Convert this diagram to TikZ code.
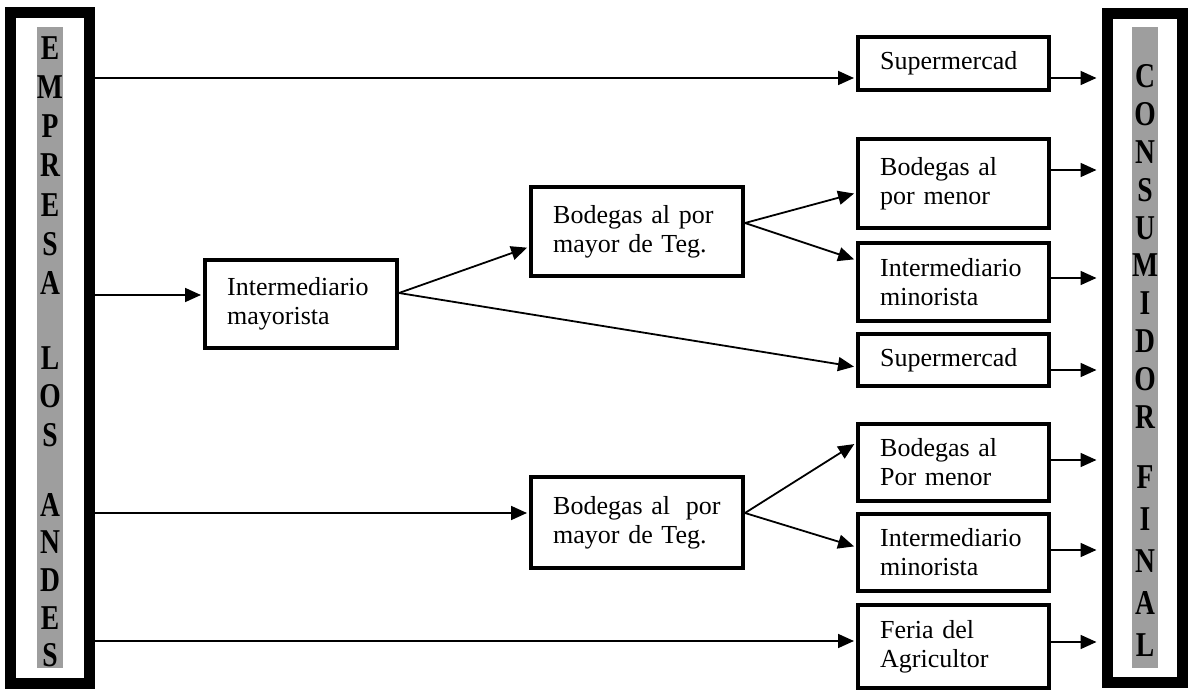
\documentclass[tikz,border=0pt]{standalone}
\usepackage{fontspec}
\setmainfont{Liberation Serif}
\usetikzlibrary{arrows.meta,calc}
\begin{document}
\begin{tikzpicture}[x=0.5pt,y=-0.5pt,
  bx/.style={draw, line width=2.2pt, align=left, inner xsep=11pt, inner ysep=0pt, font=\fontsize{13}{14.5}\selectfont},
  bar/.style={draw, line width=5.5pt, inner sep=0pt},
  col/.style={fill=black!38, inner sep=0pt},
  ltr/.style={inner sep=0pt, font=\fontsize{14.5}{14.5}\selectfont\bfseries},
  arr/.style={line width=0.9pt, -{Triangle[length=8pt,width=7pt]}, shorten >=1pt},
  arrbar/.style={arr, shorten >=2.75pt}]
\useasboundingbox (0,0) rectangle (1196,695);

% side bars
\node[bar, minimum width=39.5pt, minimum height=335.5pt] (L) at (50,348) {};
\node[col, minimum width=13pt, minimum height=320.5pt] (Lg) at (50,347.5) {};
\node[bar, minimum width=37.5pt, minimum height=334.5pt] (R) at (1145,348) {};
\node[col, minimum width=13pt, minimum height=320.5pt] (Rg) at (1145,347.5) {};

\foreach \ch/\yy [count=\i] in {E/48,M/87,P/126,R/165,E/205,S/244,A/283,L/358,O/396,S/435,A/505,N/542,D/580,E/618,S/655}
  \node[ltr] (le\i) at (50,\yy) {\scalebox{0.95}[1.2]{\ch}};
\foreach \ch/\yy [count=\i] in {C/76,O/114,N/152,S/190,U/228,M/265,I/303,D/341,O/379,R/417,F/477,I/519,N/561,A/603,L/645}
  \node[ltr] (re\i) at (1145,\yy) {\scalebox{0.95}[1.2]{\ch}};

% boxes
\node[bx, text width=73.3pt, minimum height=26.3pt] (supA) at (953.5,63.5) {Supermercad};
\node[bx, text width=73.3pt, minimum height=44.3pt] (menorA) at (953.5,183.5) {Bodegas al\\por menor};
\node[bx, text width=73.3pt, minimum height=38.8pt] (minA) at (953.5,282) {Intermediario\\minorista};
\node[bx, text width=73.3pt, minimum height=25.8pt] (supB) at (953.5,360) {Supermercad};
\node[bx, text width=73.3pt, minimum height=38.3pt] (menorB) at (953.5,462.5) {Bodegas al\\Por menor};
\node[bx, text width=73.3pt, minimum height=38.3pt] (minB) at (953.5,552.5) {Intermediario\\minorista};
\node[bx, text width=73.3pt, minimum height=41.3pt] (feria) at (953.5,646.5) {Feria del\\Agricultor};
\node[bx, text width=73.8pt, minimum height=43.8pt] (may) at (301,304) {Intermediario\\mayorista};
\node[bx, text width=83.8pt, minimum height=44.3pt] (bodA) at (637,231.5) {Bodegas al por\\mayor de Teg.};
\node[bx, text width=83.8pt, minimum height=45.3pt] (bodB) at (637,522.5) {\mbox{Bodegas al\hspace{0.6em}por}\\mayor de Teg.};

% from left bar
\coordinate (e1) at ($(supA.west)+(0,14.5)$);
\coordinate (e2) at ($(may.west)+(0,-9)$);
\coordinate (e3) at ($(bodB.west)+(0,-9.5)$);
\coordinate (e4) at ($(feria.west)+(0,-5.5)$);
\draw[arr] (L.east |- e1) -- (e1);
\draw[arr] (L.east |- e2) -- (e2);
\draw[arr] (L.east |- e3) -- (e3);
\draw[arr] (L.east |- e4) -- (e4);

% middle connectors
\coordinate (m0) at ($(may.east)+(0,-11)$);
\coordinate (m1) at ($(bodA.west)+(0,15.5)$);
\coordinate (m2) at ($(supB.west)+(0,7)$);
\draw[arr] (m0) -- (m1);
\draw[arr] (m0) -- (m2);
\coordinate (a0) at ($(bodA.east)+(0,-8.5)$);
\coordinate (a1) at ($(menorA.west)+(0,9.5)$);
\coordinate (a2) at ($(minA.west)+(0,-22)$);
\draw[arr] (a0) -- (a1);
\draw[arr] (a0) -- (a2);
\coordinate (b0) at ($(bodB.east)+(0,-9.5)$);
\coordinate (b1) at ($(menorB.west)+(0,-19.5)$);
\coordinate (b2) at ($(minB.west)+(0,-5.5)$);
\draw[arr] (b0) -- (b1);
\draw[arr] (b0) -- (b2);

% to right bar
\coordinate (r1) at ($(supA.east)+(0,14.5)$);
\coordinate (r2) at ($(menorA.east)+(0,-13.5)$);
\coordinate (r3) at ($(minA.east)+(0,-4)$);
\coordinate (r4) at ($(supB.east)+(0,10)$);
\coordinate (r5) at ($(menorB.east)+(0,-2.5)$);
\coordinate (r6) at ($(minB.east)+(0,-2.5)$);
\coordinate (r7) at ($(feria.east)+(0,-4.5)$);
\foreach \c in {r1,r2,r3,r4,r5,r6,r7}
  \draw[arrbar] (\c) -- (\c -| R.west);
\end{tikzpicture}
\end{document}
